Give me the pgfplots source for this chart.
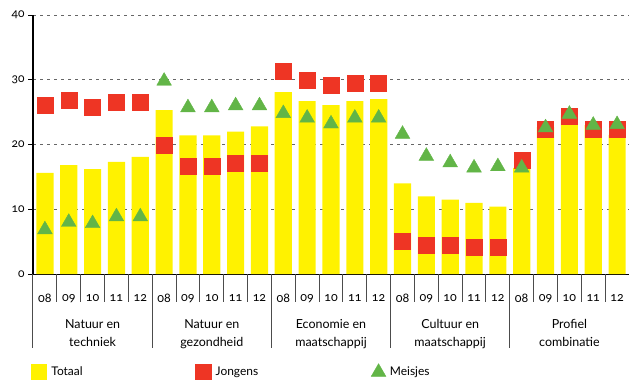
\documentclass[border=0pt]{standalone}
\usepackage{pgfplots}
\pgfplotsset{compat=1.18}
\usepackage{fontspec}
\setmainfont{Lato}[Numbers=OldStyle]
\definecolor{geel}{HTML}{FFF200}
\definecolor{rood}{HTML}{EE3524}
\definecolor{groen}{HTML}{62B547}
\begin{document}
\begin{tikzpicture}
\useasboundingbox (0,0) rectangle (629bp,380bp);
\begin{axis}[
  at={(33bp,106bp)}, anchor=south west,
  scale only axis, width=596bp, height=259bp,
  xmin=-0.5, xmax=24.5, ymin=0, ymax=40,
  clip=false,
  axis x line*=bottom, axis y line*=left,
  y axis line style={line width=1.6bp},
  x axis line style={line width=1bp},
  ytick={0,10,20,30,40},
  ymajorgrids,
  grid style={gray!80!black, line width=0.8bp, dash pattern=on 3bp off 4bp},
  ytick style={black, line width=1bp},
  tick align=outside, major tick length=5bp,
  xtick={0,...,24},
  xticklabels={08,09,10,11,12,08,09,10,11,12,08,09,10,11,12,08,09,10,11,12,08,09,10,11,12},
  xtick style={draw=none},
  x tick label style={yshift=-12bp, font=\fontsize{12.5}{14}\selectfont},
  y tick label style={font=\fontsize{12}{14}\selectfont},
  /pgf/number format/assume math mode=true,
  legend columns=3,
  legend style={draw=none, fill=none, inner sep=0pt, at={(axis description cs:-0.003,-0.378)}, anchor=west,
    font=\fontsize{12}{14}\selectfont,
    /tikz/every odd column/.append style={column sep=2bp},
    /tikz/every even column/.append style={column sep=111bp}},
]
\addplot[ybar, bar shift=0pt, bar width=0.72, fill=geel, draw=none,
  legend image code/.code={\fill[geel] (0bp,-8bp) rectangle (16bp,8bp);}]
  coordinates {
  (0,15.6) (1,16.8) (2,16.2) (3,17.3) (4,18.1)
  (5,25.3) (6,21.4) (7,21.4) (8,22.0) (9,22.8)
  (10,28.1) (11,26.7) (12,26.1) (13,26.7) (14,27.0)
  (15,14.0) (16,12.0) (17,11.5) (18,11.0) (19,10.4)
  (20,16.4) (21,22.7) (22,24.5) (23,23.0) (24,21.5)};
\addlegendentry{Totaal}
\addplot[only marks, mark=square*, mark size=8bp, color=rood]
  coordinates {
  (0,26.0) (1,26.8) (2,25.7) (3,26.5) (4,26.5)
  (5,19.9) (6,16.6) (7,16.6) (8,17.1) (9,17.1)
  (10,31.3) (11,29.9) (12,29.2) (13,29.5) (14,29.5)
  (15,5.1) (16,4.5) (17,4.4) (18,4.2) (19,4.2)
  (20,17.6) (21,22.3) (22,24.3) (23,22.4) (24,22.4)};
\addlegendentry{Jongens}
\addplot[only marks, mark=triangle*, mark size=8.5bp, color=groen]
  coordinates {
  (0,6.85) (1,8.0) (2,7.8) (3,8.85) (4,8.85)
  (5,29.8) (6,25.7) (7,25.7) (8,26.0) (9,26.0)
  (10,24.8) (11,24.1) (12,23.2) (13,24.1) (14,24.1)
  (15,21.6) (16,18.2) (17,17.2) (18,16.4) (19,16.6)
  (20,16.4) (21,22.6) (22,24.7) (23,23.0) (24,23.1)};
\addlegendentry{Meisjes}
\pgfplotsinvokeforeach{0.5,1.5,2.5,3.5,5.5,6.5,7.5,8.5,10.5,11.5,12.5,13.5,15.5,16.5,17.5,18.5,20.5,21.5,22.5,23.5}{
  \draw[black!70, line width=1bp] (axis cs:#1,0) -- ++(0pt,-28bp);}
\pgfplotsinvokeforeach{-0.5,4.5,9.5,14.5,19.5}{
  \draw[black!70, line width=1bp] (axis cs:#1,0) -- ++(0pt,-74bp);}
\node[align=center, anchor=north, font=\fontsize{12.5}{18}\selectfont, yshift=-42bp] at (axis cs:2,0) {Natuur en\\techniek};
\node[align=center, anchor=north, font=\fontsize{12.5}{18}\selectfont, yshift=-42bp] at (axis cs:7,0) {Natuur en\\gezondheid};
\node[align=center, anchor=north, font=\fontsize{12.5}{18}\selectfont, yshift=-42bp] at (axis cs:12,0) {Economie en\\maatschappij};
\node[align=center, anchor=north, font=\fontsize{12.5}{18}\selectfont, yshift=-42bp] at (axis cs:17,0) {Cultuur en\\maatschappij};
\node[align=center, anchor=north, font=\fontsize{12.5}{18}\selectfont, yshift=-42bp] at (axis cs:22,0) {Profiel\\combinatie};
\end{axis}
\end{tikzpicture}
\end{document}
